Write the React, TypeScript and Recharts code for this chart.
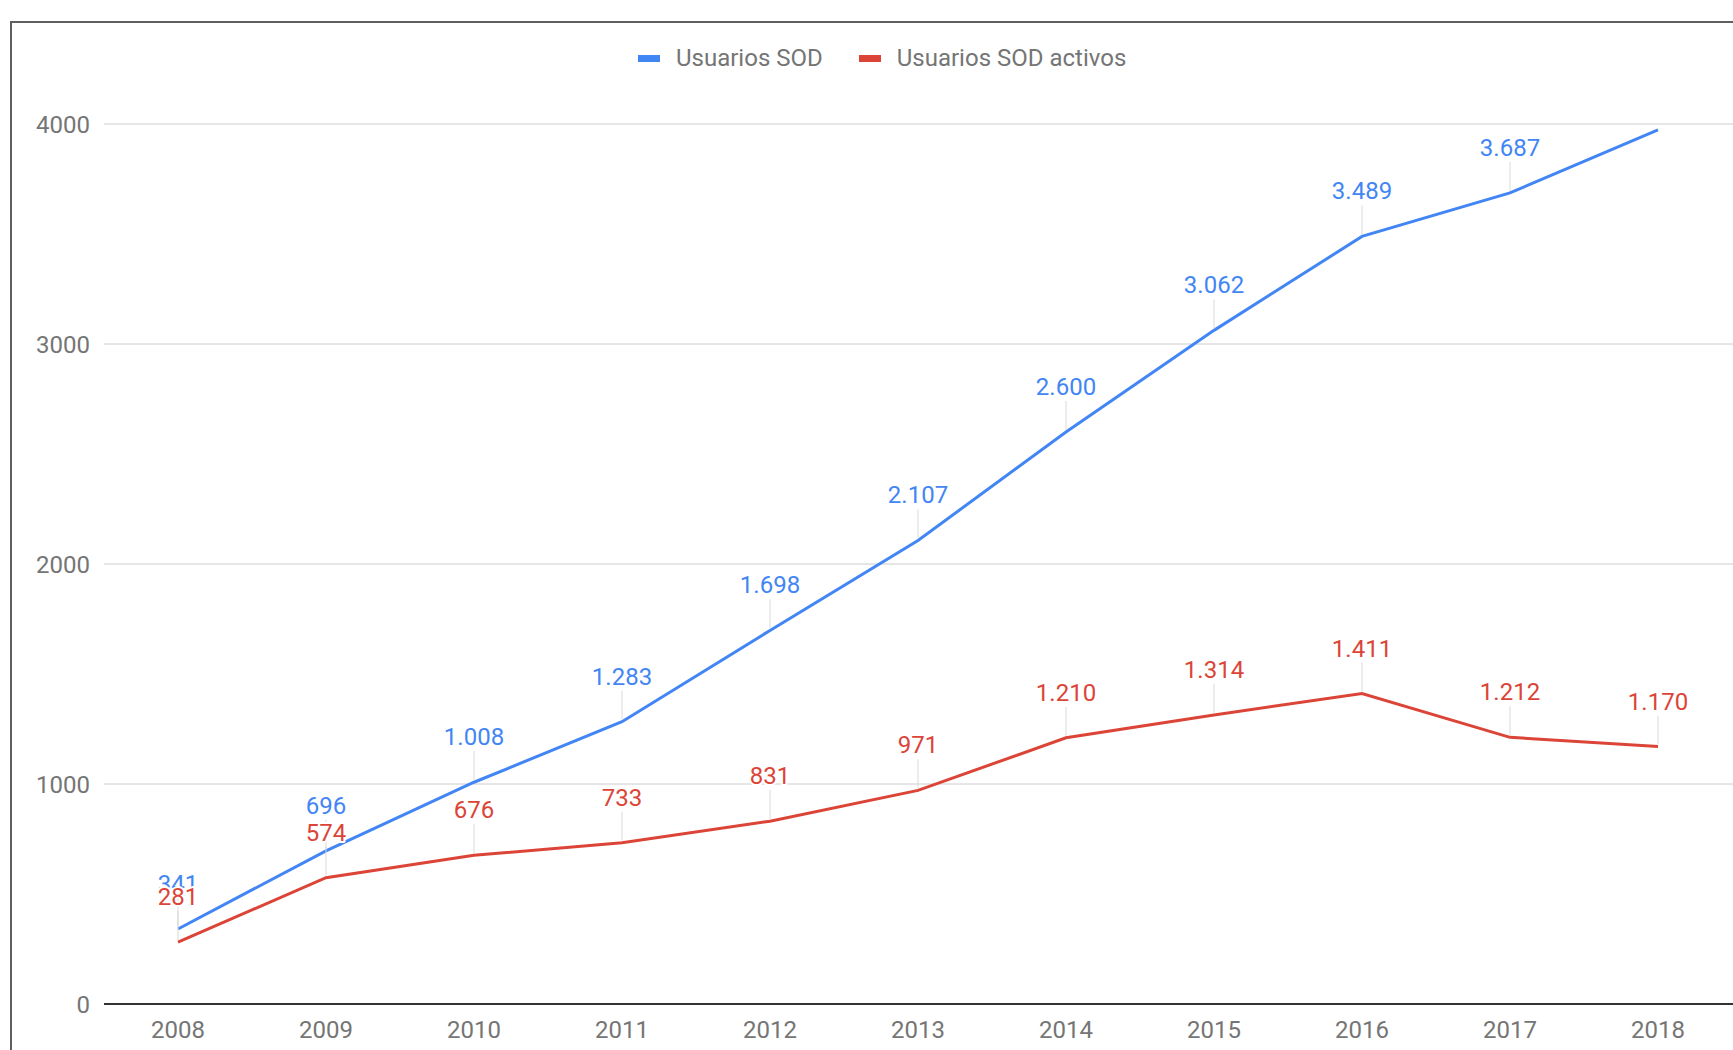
import { LineChart, Line, XAxis, YAxis, CartesianGrid, Legend, LabelList } from "recharts";

const years = ["2008", "2009", "2010", "2011", "2012", "2013", "2014", "2015", "2016", "2017", "2018"];
const usuariosSOD = [341, 696, 1008, 1283, 1698, 2107, 2600, 3062, 3489, 3687, 3973];
const usuariosSODActivos = [281, 574, 676, 733, 831, 971, 1210, 1314, 1411, 1212, 1170];
// the source hides the last blue label (no room for it)
const sodLabelShown = [true, true, true, true, true, true, true, true, true, true, false];
const yTicks = [0, 1000, 2000, 3000, 4000];

const BLUE = "#4285F4";
const RED = "#DB4437";
const FONT = "Roboto, 'Noto Sans', sans-serif";

const data = years.map((year, i) => ({
  year,
  sod: usuariosSOD[i],
  activos: usuariosSODActivos[i],
}));

// 1.008 style thousands separator
const fmt = (v: number) => String(v).replace(/\B(?=(\d{3})+(?!\d))/g, ".");

function makeLabel(color: string, shown?: boolean[]) {
  return (props: any) => {
    const { x, y, value, index } = props;
    if (shown && !shown[index]) return null;
    return (
      <g>
        <line x1={x} y1={y - 2} x2={x} y2={y - 31} stroke="#d9d9d9" strokeWidth={1} />
        <text
          x={x}
          y={y - 37}
          textAnchor="middle"
          fontFamily={FONT}
          fontSize={24}
          fill={color}
          stroke="#fff"
          strokeWidth={4}
          paintOrder="stroke"
          strokeLinejoin="round"
        >
          {fmt(value)}
        </text>
      </g>
    );
  };
}

const legendItems = [
  { name: "Usuarios SOD", color: BLUE },
  { name: "Usuarios SOD activos", color: RED },
];

function ChartLegend() {
  return (
    <div style={{ display: "flex", alignItems: "center", fontFamily: FONT, fontSize: 24, color: "#757575", lineHeight: "28px" }}>
      {legendItems.map((item) => (
        <div key={item.name} style={{ display: "flex", alignItems: "center", marginRight: 36 }}>
          <span style={{ width: 22, height: 7, background: item.color, marginRight: 16, display: "inline-block" }} />
          <span>{item.name}</span>
        </div>
      ))}
    </div>
  );
}

export default function App() {
  return (
    <div style={{ position: "fixed", left: 0, top: 0, width: 1733, height: 1050, overflow: "hidden", background: "#fff" }}>
      <div
        style={{
          position: "absolute",
          left: 10,
          top: 21,
          width: 1800,
          height: 1100,
          border: "2px solid #5f5f5f",
          boxSizing: "border-box",
        }}
      />
      <div style={{ position: "absolute", left: 0, top: 0 }}>
        <LineChart width={1733} height={1050} data={data} margin={{ top: 124, right: 0, left: 24, bottom: 0 }}>
          <CartesianGrid vertical={false} stroke="#cccccc" strokeWidth={1} />
          <XAxis
            dataKey="year"
            height={46}
            padding={{ left: 74, right: 75 }}
            tickLine={false}
            tickSize={0}
            tickMargin={17}
            axisLine={{ stroke: "#333333", strokeWidth: 2 }}
            tick={{ fill: "#757575", fontSize: 24, fontFamily: FONT }}
            interval={0}
          />
          <YAxis
            width={80}
            domain={[0, 4000]}
            ticks={yTicks}
            axisLine={false}
            tickLine={false}
            tickSize={0}
            tickMargin={14}
            tick={{ fill: "#757575", fontSize: 24, fontFamily: FONT }}
          />
          <Legend
            verticalAlign="middle"
            align="center"
            layout="horizontal"
            wrapperStyle={{ top: 44, left: 638, width: "auto" }}
            content={() => <ChartLegend />}
          />
          <Line
            type="linear"
            dataKey="sod"
            name="Usuarios SOD"
            stroke={BLUE}
            strokeWidth={3}
            dot={false}
            activeDot={false}
            isAnimationActive={false}
          >
            <LabelList dataKey="sod" content={makeLabel(BLUE, sodLabelShown)} />
          </Line>
          <Line
            type="linear"
            dataKey="activos"
            name="Usuarios SOD activos"
            stroke={RED}
            strokeWidth={3}
            dot={false}
            activeDot={false}
            isAnimationActive={false}
          >
            <LabelList dataKey="activos" content={makeLabel(RED)} />
          </Line>
        </LineChart>
      </div>
    </div>
  );
}
